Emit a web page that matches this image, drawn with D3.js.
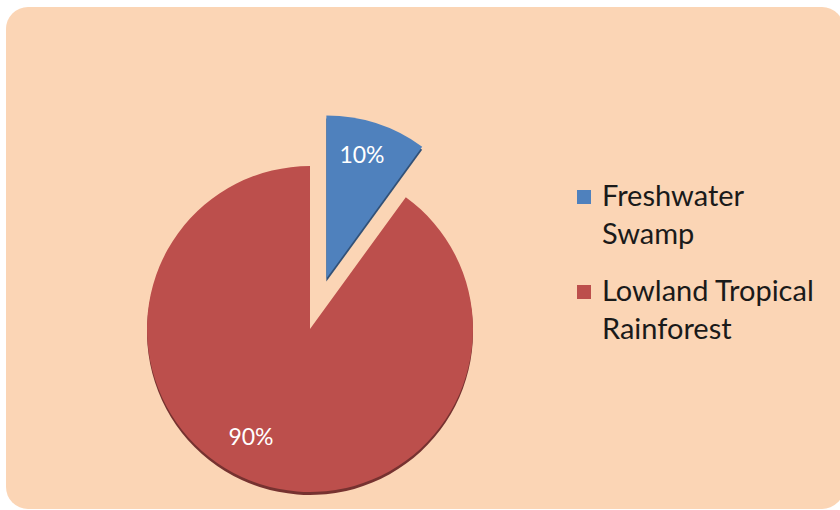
<!DOCTYPE html>
<html><head><meta charset="utf-8">
<script src="https://cdn.jsdelivr.net/npm/d3@7"></script>
<style>body{margin:0;background:#fff}svg{display:block}</style>
</head><body>
<script>
const categories = ["Freshwater Swamp", "Lowland Tropical Rainforest"];
const values = [10, 90];
const labels = ["10%", "90%"];
const legendLines = [["Freshwater", "Swamp"], ["Lowland Tropical", "Rainforest"]];
const colors = ["#4F81BD", "#BC4F4C"];

const W = 840, H = 510;
const svg = d3.select("body").append("svg").attr("width", W).attr("height", H);
svg.append("rect").attr("x", 6).attr("y", 7).attr("width", 838).attr("height", 502)
  .attr("rx", 22).attr("fill", "#FBD5B5");

const cx = 310, cy = 329, R = 163, explode = 53;
const pie = d3.pie().sort(null)(values);
const arc = d3.arc().innerRadius(0).outerRadius(R);
const color = d3.scaleOrdinal().domain(categories).range(colors);

const g = svg.append("g").attr("transform", `translate(${cx},${cy})`);
pie.forEach((d, i) => {
  const mid = (d.startAngle + d.endAngle) / 2;
  const off = i === 0 ? explode : 0;
  const dx = Math.sin(mid) * off, dy = -Math.cos(mid) * off;
  const sg = g.append("g").attr("transform", `translate(${dx},${dy})`);
  sg.append("path").attr("d", arc(d)).attr("fill", d3.color(color(categories[i])).darker(1.3))
    .attr("transform", "translate(0,3)");
  sg.append("path").attr("d", arc(d)).attr("fill", color(categories[i]));
});
const lblPos = [[362, 157], [251, 439]];
labels.forEach((t, i) => {
  svg.append("text").attr("x", lblPos[i][0]).attr("y", lblPos[i][1])
    .attr("text-anchor", "middle").attr("dominant-baseline", "middle")
    .attr("fill", "#fff").attr("font-family", "Lato, 'Open Sans', sans-serif")
    .attr("font-size", 23).text(t);
});
const leg = svg.append("g");
const legY = [197, 292];
categories.forEach((c, i) => {
  leg.append("rect").attr("x", 577).attr("y", legY[i] - 7).attr("width", 14).attr("height", 14)
    .attr("fill", color(c));
  legendLines[i].forEach((line, j) => {
    leg.append("text").attr("x", 602).attr("y", legY[i] + 9 + j * 38)
      .attr("font-family", "Lato, 'Open Sans', sans-serif").attr("font-size", 29)
      .attr("fill", "#1a1a1a").text(line);
  });
});
</script>
</body></html>
